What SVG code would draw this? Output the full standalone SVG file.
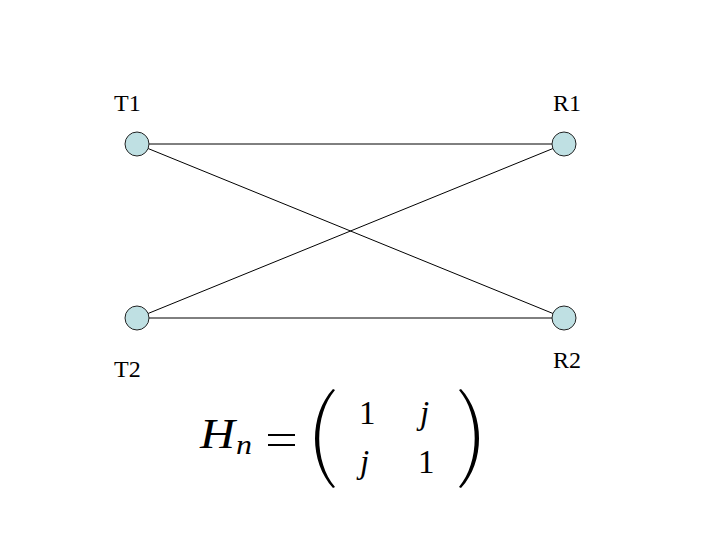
<svg xmlns="http://www.w3.org/2000/svg" width="720" height="540" viewBox="0 0 720 540">
<style>
.lbl{font-family:"Liberation Serif","Times New Roman",serif;font-size:24px;fill:#000}
.node{fill:#bfe0e3;stroke:#222;stroke-width:1}
.edge{stroke:#000;stroke-width:1;fill:none}
.m{font-family:"Liberation Serif","Times New Roman",serif;fill:#000}
.mi{font-family:"Liberation Serif","Times New Roman",serif;font-style:italic;fill:#000}
.paren{fill:#000}
</style>
<rect width="720" height="540" fill="#fff"/>
<g id="connectors">
<line class="edge" x1="137" y1="144" x2="564" y2="144"/>
<line class="edge" x1="137" y1="144" x2="564" y2="318"/>
<line class="edge" x1="137" y1="318" x2="564" y2="144"/>
<line class="edge" x1="137" y1="318" x2="564" y2="318"/>
</g>
<g id="T1"><circle class="node" cx="137" cy="144" r="12"/><text class="lbl" x="114" y="111">T1</text></g>
<g id="R1"><circle class="node" cx="564" cy="144" r="12"/><text class="lbl" x="553" y="111">R1</text></g>
<g id="T2"><circle class="node" cx="137" cy="318" r="12"/><text class="lbl" x="114" y="377">T2</text></g>
<g id="R2"><circle class="node" cx="564" cy="318" r="12"/><text class="lbl" x="553" y="368">R2</text></g>
<g id="equation">
<text class="mi" x="200" y="448" font-size="42" textLength="35" lengthAdjust="spacingAndGlyphs">H</text>
<text class="mi" x="236" y="454" font-size="27" textLength="16" lengthAdjust="spacingAndGlyphs">n</text>
<rect x="268" y="434" width="27" height="2" fill="#000"/>
<rect x="268" y="444" width="27" height="2" fill="#000"/>
<path class="paren" d="M335,390 C314,415 314,462 335,487 L333,488 C309,462 309,415 333,389 Z"/>
<path class="paren" d="M459,390 C480,415 480,462 459,487 L461,488 C485,462 485,415 461,389 Z"/>
<text class="m" x="359" y="424" font-size="33">1</text>
<text class="mi" x="420" y="424" font-size="33">j</text>
<text class="mi" x="360" y="473" font-size="33">j</text>
<text class="m" x="418" y="473" font-size="33">1</text>
</g>
</svg>
